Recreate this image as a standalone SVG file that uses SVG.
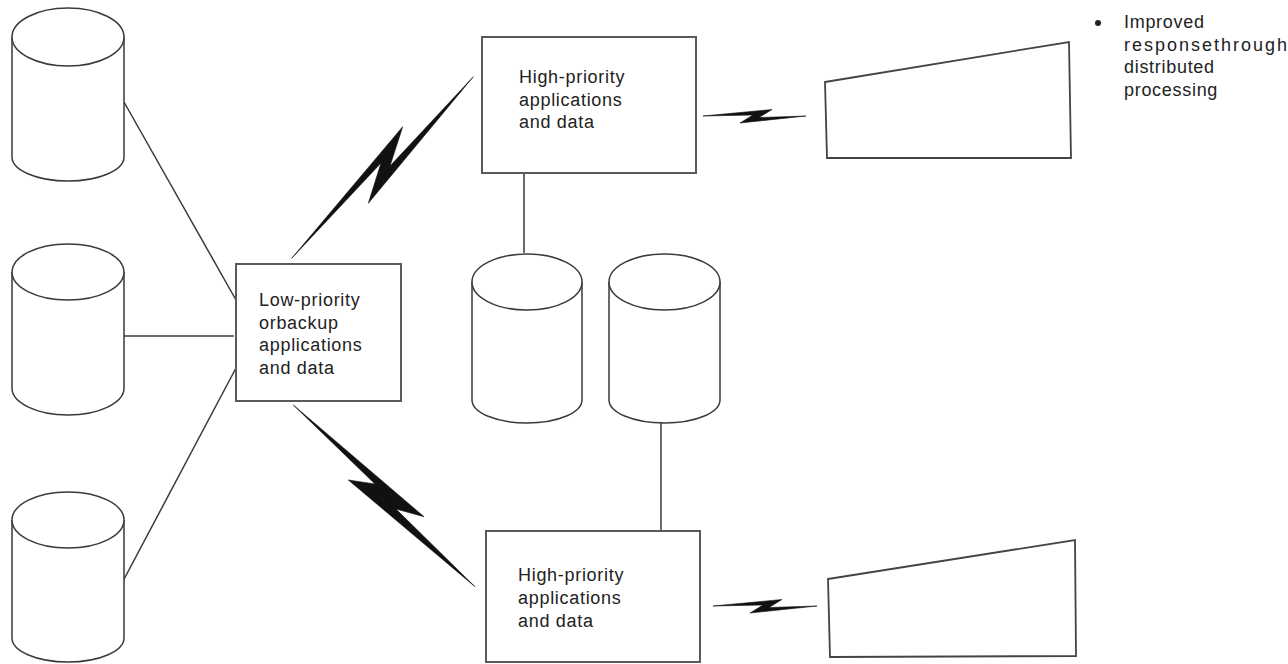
<svg xmlns="http://www.w3.org/2000/svg" width="1288" height="664" viewBox="0 0 1288 664">
<style>
.cyl{fill:#fff;stroke:#3a3a3a;stroke-width:1.5}
.box{fill:#fff;stroke:#5a5a5a;stroke-width:2}
.scr{fill:#fff;stroke:#444;stroke-width:1.8}
.ln{stroke:#3a3a3a;stroke-width:1.5;fill:none}
.bolt{fill:#111;stroke:#111;stroke-width:0.6;stroke-linejoin:miter}
.t{font-family:"Liberation Sans",Arial,sans-serif;font-size:18px;fill:#222;letter-spacing:0.7px}
</style>
<rect width="1288" height="664" fill="#fff"/>
<g id="connectors">
<path class="ln" d="M124,102 L236,300"/>
<path class="ln" d="M118,336 L234,336"/>
<path class="ln" d="M236,368 L122,583"/>
<path class="ln" d="M524,173 L524,253"/>
<path class="ln" d="M661,423 L661,531"/>
<polygon class="bolt" points="291.7,258.3 402.7,126.7 390,166 473.3,76.7 368.3,203.3 381,163"/>
<polygon class="bolt" points="293.3,405 424,516.7 396,509 475,586.7 348.3,480 375,484"/>
<polygon class="bolt" points="703,116 772,109.5 759,117.5 806,116 740,123 753,115"/>
<polygon class="bolt" points="713,606 782,599.5 769,607.5 817,606 750,613 763,605"/>
</g>
<g id="db1">
<path class="cyl" d="M12,37 V157 A56,24 0 0 0 124,157 V37"/>
<ellipse class="cyl" cx="68" cy="37" rx="56" ry="29"/>
</g>
<g id="db2">
<path class="cyl" d="M12,272 V388 A56,27 0 0 0 124,388 V272"/>
<ellipse class="cyl" cx="68" cy="272" rx="56" ry="28"/>
</g>
<g id="db3">
<path class="cyl" d="M12,520 V638 A56,24 0 0 0 124,638 V520"/>
<ellipse class="cyl" cx="68" cy="520" rx="56" ry="28"/>
</g>
<g id="dbA">
<path class="cyl" d="M472,282 V400 A55,23 0 0 0 582,400 V282"/>
<ellipse class="cyl" cx="527" cy="282" rx="55" ry="28"/>
</g>
<g id="dbB">
<path class="cyl" d="M609,282 V400 A55.5,23 0 0 0 720,400 V282"/>
<ellipse class="cyl" cx="664.5" cy="282" rx="55.5" ry="28"/>
</g>
<g id="low">
<rect class="box" x="236" y="264" width="165" height="137"/>
<text class="t" x="259" y="306">Low-priority</text>
<text class="t" x="259" y="328.5">orbackup</text>
<text class="t" x="259" y="351">applications</text>
<text class="t" x="259" y="373.5">and data</text>
</g>
<g id="high1">
<rect class="box" x="482" y="37" width="214" height="136"/>
<text class="t" x="519" y="83">High-priority</text>
<text class="t" x="519" y="105.5">applications</text>
<text class="t" x="519" y="128">and data</text>
</g>
<g id="high2">
<rect class="box" x="486" y="531" width="214" height="131"/>
<text class="t" x="518" y="581">High-priority</text>
<text class="t" x="518" y="604">applications</text>
<text class="t" x="518" y="627">and data</text>
</g>
<g id="screen1">
<polygon class="scr" points="825,82 1069,42 1071,158 827,158"/>
</g>
<g id="screen2">
<polygon class="scr" points="828,579 1075,540 1076,656 830,657"/>
</g>
<g id="note">
<circle cx="1098" cy="23" r="3" fill="#222"/>
<text class="t" x="1124" y="28">Improved</text>
<text class="t" x="1124" y="50.5" style="letter-spacing:2px">responsethrough</text>
<text class="t" x="1124" y="73">distributed</text>
<text class="t" x="1124" y="95.5">processing</text>
</g>
</svg>
